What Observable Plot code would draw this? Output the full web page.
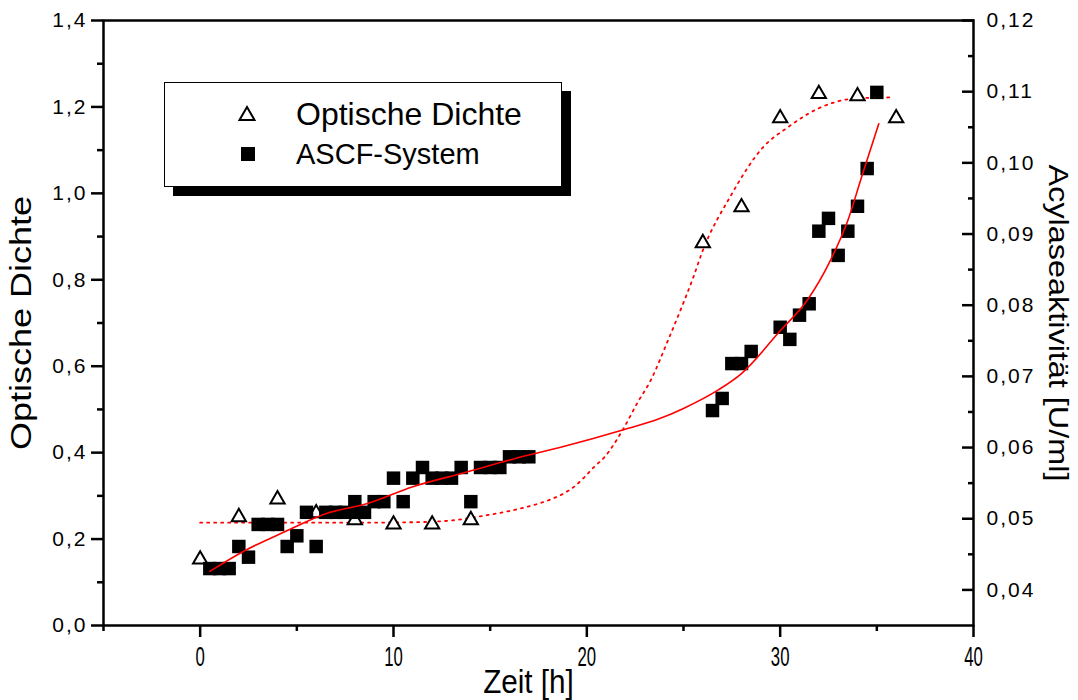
<!DOCTYPE html>
<html><head><meta charset="utf-8">
<script src="https://cdn.jsdelivr.net/npm/d3@7"></script>
<script src="https://cdn.jsdelivr.net/npm/@observablehq/plot@0.6"></script>
<style>
body{margin:0;background:#fff;}
#wrap{position:relative;width:1078px;height:700px;font-family:"Liberation Sans",Arial,Helvetica,sans-serif;color:#000;}
#wrap svg{display:block;}
#legend{position:absolute;left:164px;top:82px;width:396px;height:103px;border:1.5px solid #000;background:#fff;box-shadow:9px 9px 0 #000;}
.lrow{position:absolute;left:0;height:40px;display:flex;align-items:center;}
.lrow svg{position:absolute;}
.lrow span{position:absolute;left:131px;white-space:nowrap;line-height:1;}
g[aria-label="y-axis tick label"] text{letter-spacing:2px;}
</style>
</head><body>
<div id="wrap"></div>
<script>
// Optische Dichte (left axis)
const odTime  = [0, 2, 4, 6, 8, 10, 12, 14, 26, 28, 30, 32, 34, 36];
const odValue = [0.153, 0.251, 0.292, 0.260, 0.244, 0.234, 0.234, 0.244, 0.885, 0.968, 1.174, 1.230, 1.225, 1.174];

// ASCF-System, Acylaseaktivität [U/ml] (right axis)
const ascfTime  = [0.5, 1, 1.5, 2, 2.5, 3, 3.5, 4, 4.5, 5, 5.5, 6, 6.5, 7, 7.5, 8, 8, 8.5, 9, 9.5, 10, 10.5, 11, 11.5, 12, 12.5, 13, 13.5, 14, 14.5, 15, 15.5, 16, 16.5, 17,
                   26.5, 27, 27.5, 28, 28.5, 30, 30.5, 31, 31.5, 32, 32.5, 33, 33.5, 34, 34.5, 35];
const ascfValue = [0.0430, 0.0430, 0.0430, 0.0461, 0.0446, 0.0492, 0.0492, 0.0492, 0.0461, 0.0476, 0.0509, 0.0461, 0.0509, 0.0509, 0.0509, 0.0509, 0.0524, 0.0509, 0.0524, 0.0524, 0.0557, 0.0524, 0.0557, 0.0572, 0.0557, 0.0557, 0.0557, 0.0572, 0.0524, 0.0572, 0.0572, 0.0572, 0.0587, 0.0587, 0.0587,
                   0.0652, 0.0669, 0.0718, 0.0718, 0.0735, 0.0769, 0.0752, 0.0786, 0.0802, 0.0904, 0.0922, 0.0870, 0.0904, 0.0939, 0.0992, 0.1099];

// fitted curves
const odFitTime  = [0, 4, 8, 11, 13, 14.8, 16.5, 17.5, 18.2, 18.9, 19.4, 19.8, 20.4, 20.9, 21.9, 22.6, 23.3, 24.2, 24.9, 25.5, 26.0, 27.4, 29.1, 30.4, 32.1, 34, 35.8];
const odFitValue = [0.238, 0.238, 0.238, 0.239, 0.243, 0.255, 0.270, 0.282, 0.293, 0.308, 0.323, 0.340, 0.368, 0.389, 0.456, 0.514, 0.567, 0.660, 0.736, 0.805, 0.868, 0.991, 1.106, 1.153, 1.199, 1.220, 1.222];
const ascfFitTime  = [0.5, 2.3, 4.4, 6.6, 8.6, 11, 13.7, 16.2, 18.6, 21.9, 23.7, 25, 26.8, 28, 30, 31.4, 32.6, 33.5, 34.2, 35.1];
const ascfFitValue = [0.0426, 0.0455, 0.0482, 0.0508, 0.0521, 0.0545, 0.0565, 0.0584, 0.0600, 0.0625, 0.0640, 0.0655, 0.0681, 0.0704, 0.0764, 0.0807, 0.0863, 0.0919, 0.0979, 0.1055];

// axes
const xMajor = [0, 10, 20, 30, 40];
const xMinor = [-5, 5, 15, 25, 35];
const yMajor = [0, 0.2, 0.4, 0.6, 0.8, 1.0, 1.2, 1.4];
const yMinor = [0.1, 0.3, 0.5, 0.7, 0.9, 1.1, 1.3];
const rMajor = [0.04, 0.05, 0.06, 0.07, 0.08, 0.09, 0.10, 0.11, 0.12];
const rMinor = [0.045, 0.055, 0.065, 0.075, 0.085, 0.095, 0.105, 0.115];
const leftDomain = [0, 1.4];
const rightDomain = [0.035, 0.12];

const toLeft = v => leftDomain[0] + (v - rightDomain[0]) / (rightDomain[1] - rightDomain[0]) * (leftDomain[1] - leftDomain[0]);
const fromLeft = y => rightDomain[0] + (y - leftDomain[0]) / (leftDomain[1] - leftDomain[0]) * (rightDomain[1] - rightDomain[0]);
const comma = (d, n) => d.toFixed(n).replace(".", ",");

const od = odTime.map((t, i) => ({t, v: odValue[i]}));
const ascf = ascfTime.map((t, i) => ({t, v: ascfValue[i]}));
const odFit = odFitTime.map((t, i) => ({t, v: odFitValue[i]}));
const ascfFit = ascfFitTime.map((t, i) => ({t, v: ascfFitValue[i]}));

const chart = Plot.plot({
  width: 1078, height: 700,
  marginLeft: 103, marginRight: 105, marginTop: 20, marginBottom: 75,
  x: {domain: [-5, 40]},
  y: {domain: leftDomain},
  style: {fontFamily: "'Liberation Sans', Arial, Helvetica, sans-serif", fontSize: "20px", color: "#000", background: "#fff", overflow: "visible"},
  marks: [
    Plot.line(odFit, {x: "t", y: "v", curve: "monotone-x", stroke: "#ff0000", strokeWidth: 1.8, strokeDasharray: "2,5"}),
    Plot.dot(od, {x: "t", y: "v", symbol: "triangle", r: 5.3, stroke: "#000", strokeWidth: 2, fill: "#fff"}),
    Plot.dot(ascf, {x: "t", y: d => toLeft(d.v), symbol: "square", r: 7.6, fill: "#000", stroke: "none"}),
    Plot.line(ascfFit, {x: "t", y: d => toLeft(d.v), curve: "monotone-x", stroke: "#ff0000", strokeWidth: 1.6}),
    Plot.frame({stroke: "#000", strokeWidth: 2.5}),
    Plot.axisY(yMajor, {anchor: "left", tickSize: 12, tickPadding: 4, strokeWidth: 2.5, tickFormat: d => comma(d, 1), label: null, fontSize: 21}),
    Plot.axisY(yMinor, {anchor: "left", tickSize: 6, strokeWidth: 2.5, tickFormat: () => "", label: null}),
    Plot.axisY(rMajor.map(toLeft), {anchor: "right", tickSize: 0, tickPadding: 13, tickFormat: d => comma(fromLeft(d), 2), label: null, fontSize: 21}),
    Plot.axisY(rMajor.map(toLeft), {anchor: "right", tickSize: -12, strokeWidth: 2.5, tickFormat: () => "", label: null}),
    Plot.axisY(rMinor.map(toLeft), {anchor: "right", tickSize: -6, strokeWidth: 2.5, tickFormat: () => "", label: null}),
    Plot.axisX(xMajor, {anchor: "bottom", tickSize: 12, tickPadding: 28, strokeWidth: 2.5, tickFormat: d => String(d), label: null, fontSize: 27}),
    Plot.axisX(xMinor, {anchor: "bottom", tickSize: 6, strokeWidth: 2.5, tickFormat: () => "", label: null}),
    Plot.text(["Zeit [h]"], {text: d => d, frameAnchor: "bottom", dx: -10, dy: 67, fontSize: 33}),
    Plot.text(["Optische Dichte"], {text: d => d, frameAnchor: "left", textAnchor: "middle", rotate: -90, dx: -73, fontSize: 30}),
    Plot.text(["Acylaseaktivität [U/ml]"], {text: d => d, frameAnchor: "right", textAnchor: "middle", rotate: 90, dx: 75, fontSize: 27})
  ]
});

const wrap = document.getElementById("wrap");
wrap.appendChild(chart);

// reproduce the distorted text proportions of the original
function stretch(sel, sx) {
  sel.each(function() {
    const t = d3.select(this);
    const x = +t.attr("x") || 0, y = +t.attr("y") || 0;
    const tr = t.attr("transform") || "";
    t.attr("x", null).attr("y", null).attr("transform", `${tr} translate(${x},${y}) scale(${sx},1)`);
  });
}
const svg = d3.select(chart);
const byText = s => svg.selectAll("text").filter(function() { return this.textContent === s; });
stretch(svg.selectAll('g[aria-label="x-axis tick label"] text'), 0.62);
stretch(byText("Zeit [h]"), 0.9);
stretch(byText("Optische Dichte"), 1.2);
stretch(byText("Acylaseaktivität [U/ml]"), 1.2);

// legend
const legend = document.createElement("div");
legend.id = "legend";
legend.innerHTML = `
  <div class="lrow" style="top:11px;width:100%">
    <svg width="20" height="18" style="left:72px;top:11px" viewBox="0 0 20 18"><polygon points="10,2 17.5,15 2.5,15" fill="#fff" stroke="#000" stroke-width="2"/></svg>
    <span style="font-size:32px">Optische Dichte</span>
  </div>
  <div class="lrow" style="top:51px;width:100%">
    <svg width="14" height="14" style="left:76px;top:13px"><rect x="0" y="0" width="14" height="14" fill="#000"/></svg>
    <span style="font-size:29px">ASCF-System</span>
  </div>`;
wrap.appendChild(legend);
</script>
</body></html>
